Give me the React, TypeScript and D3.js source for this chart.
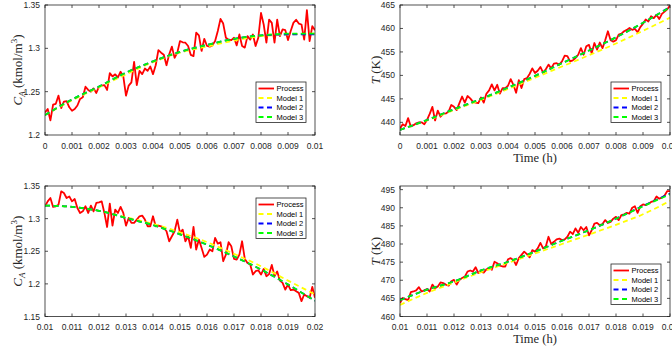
import * as d3 from 'd3';

// sampling grid: 101 samples per panel, 0.0001 h apart
const STEP = 0.0001;

// top row: concentration / temperature, t = 0 ... 0.01 h
const caProcessA = [
  1.226, 1.230, 1.217, 1.235, 1.236, 1.2455, 1.231, 1.2385, 1.239, 1.232,
  1.228, 1.230, 1.234, 1.2416, 1.2435, 1.2557, 1.252, 1.250, 1.2538, 1.2485,
  1.2557, 1.257, 1.2576, 1.252, 1.2714, 1.2676, 1.270, 1.2664, 1.273, 1.2676,
  1.2454, 1.257, 1.2607, 1.2843, 1.2576, 1.274, 1.2702, 1.2767, 1.274, 1.279,
  1.2702, 1.2805, 1.298, 1.295, 1.2927, 1.2805, 1.293, 1.302, 1.289, 1.295,
  1.3084, 1.307, 1.3065, 1.3027, 1.2924, 1.291, 1.318, 1.315, 1.297, 1.311,
  1.3027, 1.302, 1.3034, 1.3084, 1.320, 1.334, 1.3286, 1.3122, 1.310, 1.3095,
  1.3122, 1.3034, 1.316, 1.3027, 1.3008, 1.3141, 1.310, 1.316, 1.3027, 1.3122,
  1.3408, 1.3275, 1.3065, 1.3332, 1.3294, 1.3065, 1.3332, 1.314, 1.3218, 1.321,
  1.3095, 1.320, 1.3294, 1.333, 1.3286, 1.3275, 1.310, 1.344, 1.3084, 1.3256,
  1.321,
];
const tProcessA = [
  438.7, 439.6, 439.2, 440.9, 439.1, 439.4, 439.8, 440.0, 440.0, 439.6,
  440.5, 441.8, 443.3, 440.4, 442.5, 441.2, 441.8, 441.9, 442.3, 443.7,
  443.3, 442.6, 444.1, 445.5, 444.2, 445.6, 445.1, 444.4, 444.2, 444.1,
  445.3, 444.2, 446.1, 446.8, 448.1, 446.8, 448.0, 446.1, 447.3, 447.3,
  447.8, 449.2, 448.0, 446.3, 449.0, 447.3, 449.2, 449.4, 450.3, 451.5,
  450.5, 451.0, 451.8, 450.6, 451.3, 452.3, 451.5, 452.5, 452.6, 452.3,
  453.0, 454.2, 454.1, 453.0, 453.2, 453.7, 454.4, 455.8, 454.4, 456.2,
  456.5, 454.7, 456.9, 455.5, 457.0, 455.8, 457.5, 459.4, 457.5, 457.2,
  457.5, 458.7, 458.9, 459.4, 459.7, 460.1, 459.7, 459.9, 459.2, 460.3,
  461.0, 461.9, 461.5, 462.6, 462.2, 462.9, 462.0, 463.1, 463.6, 464.1,
  464.9,
];

// bottom row, t = 0.01 ... 0.02 h
const caProcessB = [
  1.3189, 1.3265, 1.3316, 1.3179, 1.3189, 1.3214, 1.3418, 1.3393, 1.3316, 1.334,
  1.3265, 1.33, 1.3163, 1.3087, 1.3112, 1.3189, 1.3087, 1.3199, 1.3112, 1.324,
  1.325, 1.3265, 1.3087, 1.2872, 1.323, 1.2893, 1.3138, 1.3087, 1.3179, 1.3087,
  1.2893, 1.301, 1.2934, 1.2934, 1.2985, 1.3036, 1.3046, 1.2985, 1.2883, 1.2883,
  1.3036, 1.2883, 1.2893, 1.2883, 1.2857, 1.2806, 1.2653, 1.273, 1.2806, 1.2985,
  1.2781, 1.2832, 1.2653, 1.273, 1.2551, 1.2872, 1.2526, 1.2679, 1.2551, 1.2413,
  1.2449, 1.2526, 1.25, 1.2704, 1.2617, 1.2638, 1.2347, 1.2449, 1.2638, 1.2577,
  1.2383, 1.2372, 1.2449, 1.2653, 1.2383, 1.2321, 1.2296, 1.2143, 1.2194, 1.2209,
  1.2143, 1.223, 1.2117, 1.215, 1.229, 1.212, 1.219, 1.205, 1.2015, 1.1913,
  1.199, 1.1903, 1.1913, 1.1888, 1.1862, 1.1735, 1.1837, 1.1811, 1.1786, 1.1954,
  1.1786,
];
const tProcessB = [
  463.7, 465.1, 464.8, 464.5, 466.7, 466.9, 467.2, 468.1, 466.9, 467.2,
  467.6, 466.9, 468.8, 467.8, 468.3, 469.4, 469.2, 468.8, 468.5, 469.7,
  470.1, 468.8, 470.1, 470.6, 471.0, 472.4, 472.7, 472.4, 473.6, 472.0,
  472.4, 472.1, 473.0, 473.3, 472.9, 475.1, 474.7, 474.0, 473.8, 473.8,
  475.8, 476.1, 475.6, 474.2, 476.1, 477.0, 477.9, 477.2, 476.3, 478.3,
  477.9, 478.8, 480.3, 478.8, 479.3, 482.0, 480.0, 480.6, 481.3, 481.5,
  481.1, 481.3, 482.0, 483.4, 482.7, 484.3, 483.1, 484.7, 483.8, 484.7,
  482.4, 483.8, 485.6, 485.8, 485.2, 485.5, 486.6, 485.8, 486.1, 487.0,
  487.5, 486.6, 488.0, 488.2, 488.6, 488.4, 490.0, 490.4, 488.6, 490.4,
  490.9, 490.7, 491.1, 491.6, 491.8, 493.1, 492.5, 492.8, 493.4, 494.6,
  494.6,
];

// model predictions, read every 0.001 h
const caModel1A = [1.223, 1.240, 1.255, 1.270, 1.284, 1.295, 1.302, 1.309, 1.314, 1.316, 1.317];
const caModel2A = [1.223, 1.241, 1.256, 1.272, 1.285, 1.296, 1.304, 1.311, 1.315, 1.316, 1.316];
const caModel3A = [1.223, 1.241, 1.256, 1.272, 1.285, 1.296, 1.304, 1.311, 1.315, 1.317, 1.317];
const tModel1A = [438.4, 440.4, 442.6, 444.8, 447.1, 449.5, 451.9, 454.3, 456.8, 459.5, 462.3];
const tModel2A = [438.4, 440.5, 442.8, 445.0, 447.4, 449.9, 452.6, 455.3, 458.1, 461.2, 464.6];
const tModel3A = [438.4, 440.5, 442.8, 445.0, 447.4, 449.9, 452.6, 455.3, 458.1, 461.2, 464.5];
const caModel1B = [1.320, 1.318, 1.312, 1.302, 1.292, 1.279, 1.264, 1.246, 1.227, 1.205, 1.184];
const caModel2B = [1.320, 1.318, 1.312, 1.301, 1.290, 1.276, 1.260, 1.242, 1.222, 1.199, 1.174];
const caModel3B = [1.320, 1.318, 1.312, 1.301, 1.290, 1.276, 1.260, 1.242, 1.222, 1.199, 1.174];
const tModel1B = [463.2, 466.5, 469.4, 472.2, 474.8, 477.4, 480.0, 482.6, 485.3, 488.2, 491.9];
const tModel2B = [464.5, 467.4, 469.7, 472.7, 475.1, 477.9, 480.9, 483.8, 487.0, 490.5, 493.9];
const tModel3B = [464.5, 467.4, 469.7, 472.7, 475.1, 477.9, 480.9, 483.8, 487.0, 490.4, 493.7];

const xTicksA = [0, 0.001, 0.002, 0.003, 0.004, 0.005, 0.006, 0.007, 0.008, 0.009, 0.01];
const xTicksB = [0.01, 0.011, 0.012, 0.013, 0.014, 0.015, 0.016, 0.017, 0.018, 0.019, 0.02];
const caTicksA = [1.2, 1.25, 1.3, 1.35];
const caTicksB = [1.15, 1.2, 1.25, 1.3, 1.35];
const tTicksA = [440, 445, 450, 455, 460, 465];
const tTicksB = [460, 465, 470, 475, 480, 485, 490, 495];

const legendNames = ['Process', 'Model 1', 'Model 2', 'Model 3'];
const modelColors = ['#ffff00', '#0000ff', '#00ff00'];

const AX = '#262626';
const SANS = '"Liberation Sans", Arial, sans-serif';
const SERIF = '"Liberation Serif", "Times New Roman", serif';

type PanelProps = {
  left: number; top: number; width: number; height: number;
  t0: number; xDomain: [number, number]; yDomain: [number, number];
  xTicks: number[]; yTicks: number[];
  process: number[]; models: number[][];
  legend: [number, number];
  kind: 'ca' | 'T';
  timeLabel: boolean;
};

function Panel(p: PanelProps) {
  const x = d3.scaleLinear().domain(p.xDomain).range([p.left, p.left + p.width]);
  const y = d3.scaleLinear().domain(p.yDomain).range([p.top + p.height, p.top]);
  const procLine = d3.line<number>().x((_, i) => x(p.t0 + i * STEP)).y(d => y(d));
  const modelLine = d3.line<number>()
    .x((_, i) => x(p.t0 + i * STEP * 10))
    .y(d => y(d))
    .curve(d3.curveMonotoneX);
  const bottom = p.top + p.height;
  const right = p.left + p.width;
  const tl = 3;
  const clipId = `clip-${p.left}-${p.top}`;
  const [lx, ly] = p.legend;
  const midY = p.top + p.height / 2;

  return (
    <g>
      <defs>
        <clipPath id={clipId}>
          <rect x={p.left} y={p.top} width={p.width} height={p.height} />
        </clipPath>
      </defs>
      <rect x={p.left} y={p.top} width={p.width} height={p.height} fill="#fff" />
      <g clipPath={`url(#${clipId})`} fill="none">
        <path d={procLine(p.process) || ''} stroke="#ff0000" strokeWidth={1.8} strokeLinejoin="round" />
        {p.models.map((m, i) => (
          <path key={i} d={modelLine(m) || ''} stroke={modelColors[i]} strokeWidth={1.8} strokeDasharray="5,3.5" />
        ))}
      </g>
      {/* box + inward ticks */}
      <rect x={p.left} y={p.top} width={p.width} height={p.height} fill="none" stroke={AX} strokeWidth={0.8} />
      {p.xTicks.map(v => (
        <g key={'x' + v}>
          <line x1={x(v)} x2={x(v)} y1={bottom} y2={bottom - tl} stroke={AX} strokeWidth={0.8} />
          <line x1={x(v)} x2={x(v)} y1={p.top} y2={p.top + tl} stroke={AX} strokeWidth={0.8} />
          <text x={x(v)} y={bottom + 13.5} textAnchor="middle" fontFamily={SANS} fontSize={8.5} fill={AX}>
            {String(+v.toFixed(3))}
          </text>
        </g>
      ))}
      {p.yTicks.map(v => (
        <g key={'y' + v}>
          <line x1={p.left} x2={p.left + tl} y1={y(v)} y2={y(v)} stroke={AX} strokeWidth={0.8} />
          <line x1={right} x2={right - tl} y1={y(v)} y2={y(v)} stroke={AX} strokeWidth={0.8} />
          <text x={p.left - 5} y={y(v) + 3} textAnchor="end" fontFamily={SANS} fontSize={8.5} fill={AX}>
            {String(+v.toFixed(2))}
          </text>
        </g>
      ))}
      {/* axis labels */}
      {p.kind === 'ca' ? (
        <text transform={`translate(${p.left - 23},${midY}) rotate(-90)`} textAnchor="middle"
          fontFamily={SERIF} fontSize={13} fill={AX}>
          <tspan fontStyle="italic">C</tspan>
          <tspan fontStyle="italic" fontSize={9} dy={2.5}>A</tspan>
          <tspan dy={-2.5}>{' (kmol/m'}</tspan>
          <tspan fontSize={9} dy={-5}>3</tspan>
          <tspan dy={5}>)</tspan>
        </text>
      ) : (
        <text transform={`translate(${p.left - 20},${midY}) rotate(-90)`} textAnchor="middle"
          fontFamily={SERIF} fontSize={13} fill={AX}>
          <tspan fontStyle="italic">T</tspan>
          <tspan>{' (K)'}</tspan>
        </text>
      )}
      {p.timeLabel && (
        <text x={p.left + p.width / 2} y={bottom + 26.5} textAnchor="middle" fontFamily={SERIF} fontSize={12.5} fill={AX}>
          Time (h)
        </text>
      )}
      {/* legend */}
      <g>
        <rect x={lx} y={ly} width={50} height={40.5} fill="#fff" stroke={AX} strokeWidth={0.8} />
        {legendNames.map((name, i) => {
          const yy = ly + 6.5 + i * 9.5;
          return (
            <g key={name}>
              <line x1={lx + 2.5} x2={lx + 18} y1={yy} y2={yy}
                stroke={i === 0 ? '#ff0000' : modelColors[i - 1]} strokeWidth={1.8}
                strokeDasharray={i === 0 ? undefined : '5,3.5'} />
              <text x={lx + 20.5} y={yy + 2.7} fontFamily={SANS} fontSize={7.5} fill="#000">{name}</text>
            </g>
          );
        })}
      </g>
    </g>
  );
}

export default function App() {
  const W = 672, H = 350;
  return (
    <svg width={W} height={H} style={{ position: 'absolute', left: 0, top: 0, background: '#fff' }}>
      <rect width={W} height={H} fill="#fff" />
      <Panel left={45} top={5} width={270} height={130} t0={0} xDomain={[0, 0.01]} yDomain={[1.2, 1.35]}
        xTicks={xTicksA} yTicks={caTicksA} process={caProcessA} models={[caModel1A, caModel2A, caModel3A]}
        legend={[256, 82]} kind="ca" timeLabel={false} />
      <Panel left={400} top={5} width={270} height={130} t0={0} xDomain={[0, 0.01]} yDomain={[437.3, 465]}
        xTicks={xTicksA} yTicks={tTicksA} process={tProcessA} models={[tModel1A, tModel2A, tModel3A]}
        legend={[611, 82]} kind="T" timeLabel={true} />
      <Panel left={45} top={186} width={270} height={130.5} t0={0.01} xDomain={[0.01, 0.02]} yDomain={[1.15, 1.35]}
        xTicks={xTicksB} yTicks={caTicksB} process={caProcessB} models={[caModel1B, caModel2B, caModel3B]}
        legend={[256, 198]} kind="ca" timeLabel={false} />
      <Panel left={400} top={186} width={270} height={130.5} t0={0.01} xDomain={[0.01, 0.02]} yDomain={[460, 496]}
        xTicks={xTicksB} yTicks={tTicksB} process={tProcessB} models={[tModel1B, tModel2B, tModel3B]}
        legend={[611, 264]} kind="T" timeLabel={true} />
    </svg>
  );
}
